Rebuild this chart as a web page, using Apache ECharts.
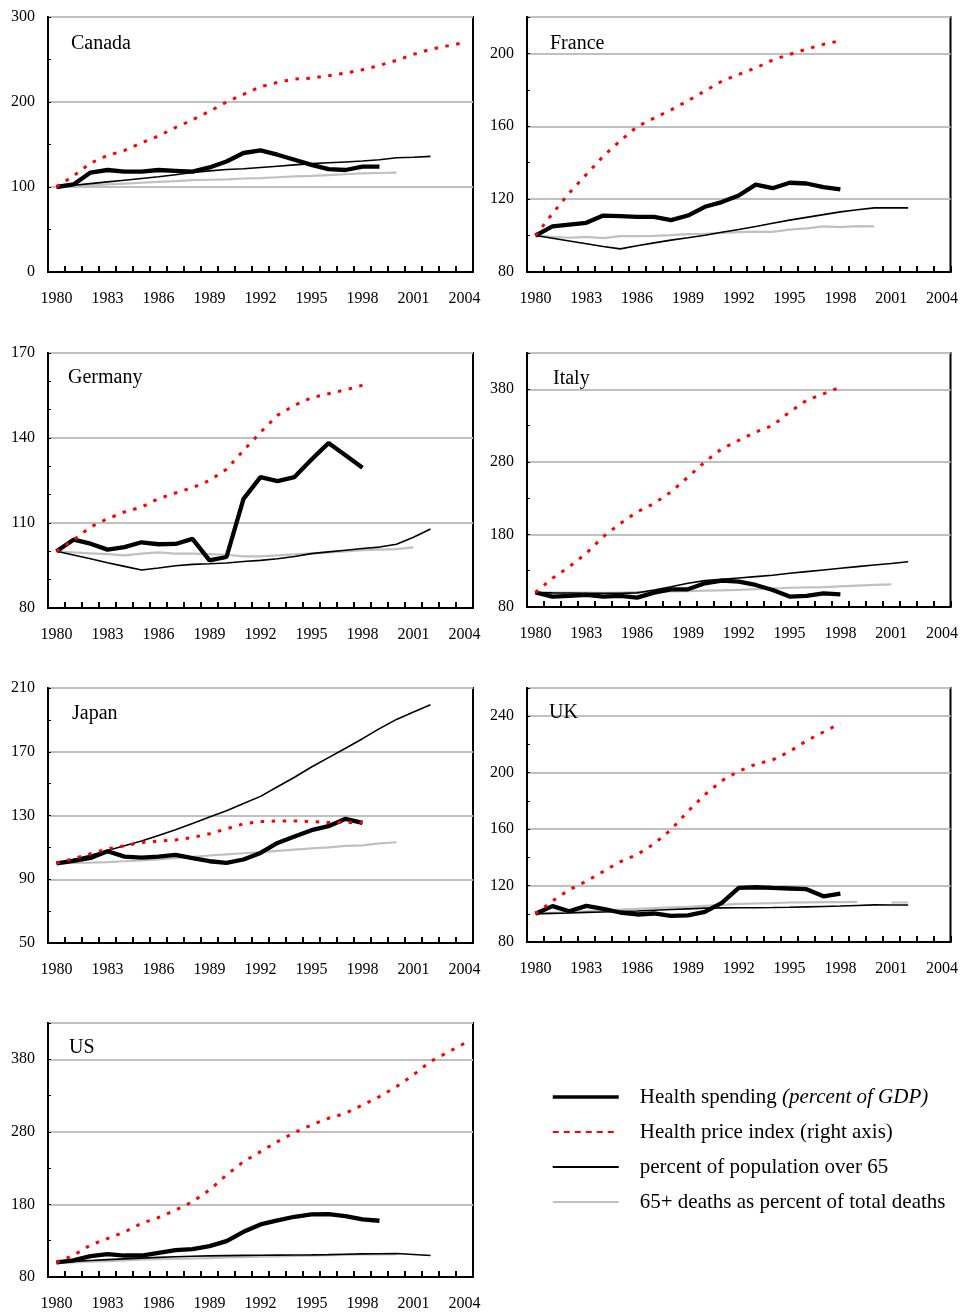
<!DOCTYPE html>
<html>
<head>
<meta charset="utf-8">
<script src="https://cdn.jsdelivr.net/npm/echarts@6/dist/echarts.min.js"></script>
<style>
html,body{margin:0;padding:0;background:#fff;}
#chart{width:961px;height:1312px;}
</style>
</head>
<body>
<div id="chart"></div>
<script>
// ---- categories ----
const years = ['1980','1981','1982','1983','1984','1985','1986','1987','1988','1989','1990','1991','1992','1993','1994','1995','1996','1997','1998','1999','2000','2001','2002','2003','2004'];
const seriesNames = ['Health spending','Health price index (right axis)','percent of population over 65','65+ deaths as percent of total deaths'];

// ---- Canada ----
const canadaSpending = [100,103,117,120,118,118,120,119,118,123,130,140,143,138,132,126,121,120,124,124];
const canadaPrice = [100,113,128,137,143,152,160,170,179,189,200,209,218,223,227,228,231,234,238,243,249,256,262,266,270];
const canadaPop65 = [100,102,104,106,108,110,112,114.5,117,119,120.5,121.5,123,124.5,126,127.5,128.5,129.5,130.5,132,134.5,135,136];
const canadaDeaths = [100,101,102,103,104,105,106,107,108,108.5,109,110,110.5,111.5,112.5,113,114,115,116,116.5,117];

// ---- France ----
const franceSpending = [100,105,106,107,111,110.7,110.3,110.3,108.5,111,115.8,118.4,122,128,126,129,128.6,126.6,125.3];
const francePrice = [100,112,123.5,133.5,143.6,152,159.8,164.5,169,174,179.4,184.7,188.5,192,196.4,199.5,202.3,205,207];
const francePop65 = [100,98.5,97,95.5,94,92.7,94.4,96,97.5,98.8,100.2,101.8,103.3,105,106.8,108.5,110,111.5,113,114.2,115.2,115.2,115.2];
const franceDeaths = [100,99.3,98.8,99.3,98.6,99.7,99.7,99.8,100.2,100.8,101,101.5,101.9,102.2,102,103.3,104,105,104.6,105.2,105];

// ---- Germany ----
const germanySpending = [100,104.1,102.7,100.6,101.5,103.2,102.5,102.6,104.4,96.8,98,118.5,126.2,124.8,126.2,132.4,138.2,133.9,129.5];
const germanyPrice = [100,104,108.6,111.5,113.9,115.6,118.6,120.6,122.5,125,129,135.6,142,148,151.5,154.2,155.6,157,158.6];
const germanyPop65 = [100,98.7,97.4,96,94.7,93.4,94.1,94.9,95.4,95.6,95.9,96.4,96.8,97.4,98.2,99.2,99.8,100.4,101,101.5,102.5,105,107.9];
const germanyDeaths = [100,99.6,99.3,99,98.6,99.2,99.6,99.2,99.2,99,98.8,98.2,98.2,98.6,98.9,99.3,99.6,100,100.4,100.6,100.8,101.4];

// ---- Italy ----
const italySpending = [100,94.3,95.3,96.6,94.3,95.3,93,99.8,104.4,104.4,112.7,116.3,115,110.4,103.5,94.3,95.3,98.9,97.5];
const italyPrice = [100,119.5,135.6,154,176.8,195,211,222.6,238.6,259,280,298,309.6,321,330,348.6,364.6,373.8,383];
const italyPop65 = [100,99.5,99.3,99,98.8,98.8,99.5,103.5,108,112.7,116.3,118.2,120,121.8,123.7,126.4,128.7,131,133.3,135.6,137.9,140,142.4];
const italyDeaths = [100,100,100,100,99.5,100,100.5,101,101.5,102,102.5,103,103.5,104.5,105.5,106.5,107,107.5,108.5,109.5,110.5,111.3];

// ---- Japan ----
const japanSpending = [100,101.5,103.4,107.6,104.2,103.6,104.2,105.3,103.2,101.3,100.3,102.4,106.5,112.8,116.8,120.8,123.3,127.9,125.4];
const japanPrice = [100,103,106,109,111,113,114,114.7,116.2,118.5,121.6,124.8,126.2,126.6,126.6,126.2,125.6,125.6,125.8];
const japanPop65 = [100,102.5,105,108,111,114,117.4,121,125,129,133,137.5,142,148,154,160.4,166.3,172.2,178.2,184.5,190.3,195,199.5];
const japanDeaths = [100,100.2,100.4,100.8,101.3,101.8,102.5,103.3,104,104.9,105.6,106.3,107,107.8,108.6,109.4,110,111,111.3,112.5,113.2];

// ---- UK ----
const ukSpending = [100,105.4,101.8,105.6,103.5,100.9,99.5,100.2,98.5,98.8,101.4,107.7,118.3,118.8,118.3,117.9,117.4,112.4,114.3];
const ukPrice = [100,109,117,123,130,136.8,142,149.5,159.6,172.6,184.4,194.3,201,206,209,215,222.6,228.8,235];
const ukPop65 = [100,100.3,100.6,101,101.3,101.6,102,102.5,103,103.5,104,104.2,104.3,104.3,104.4,104.6,104.9,105.2,105.5,105.9,106.3,106.2,106.2];
const ukDeaths = [100,100.6,101.2,101.8,102.3,102.9,103.5,104,104.5,104.9,105.6,106.3,107,107.3,107.6,108,108.1,108.2,108.3,108.4,null,108,108];

// ---- US ----
const usSpending = [100,103,108.7,111.4,109.6,109.6,113.3,117,118.3,122.5,129.4,142.3,152.4,158,163,166.2,166.7,164,159.3,157.5];
const usPrice = [100,110,124,133,142,153.8,162,172,183.7,199.8,220.5,239,252.7,266.5,279,289.5,298.7,305.6,317,328.6,342.4,358.6,377,389.4,402];
const usPop65 = [100,101.5,102.8,104,105,106,107,107.8,108.5,109.1,109.5,109.8,110,110.2,110.3,110.5,110.8,111.3,111.8,112,112.3,111,109.6];
const usDeaths = [99,100,101,102,103,104,104.5,105,105.5,106,107,107.5,108,108.5,109,109.5,110,110.5,111,111.3,111.5];

// ---- y-axis scales per panel ----
const countryNames = ['Canada','France','Germany','Italy','Japan','UK','US'];
const yMins = [0,80,80,80,50,80,80];
const yMaxs = [300,220,170,430,210,260,430];
const yIntervals = [100,40,30,100,40,40,100];
const yMinorSplits = [2,2,3,2,2,2,2];
const countryData = [
  [canadaSpending, canadaPrice, canadaPop65, canadaDeaths],
  [franceSpending, francePrice, francePop65, franceDeaths],
  [germanySpending, germanyPrice, germanyPop65, germanyDeaths],
  [italySpending, italyPrice, italyPop65, italyDeaths],
  [japanSpending, japanPrice, japanPop65, japanDeaths],
  [ukSpending, ukPrice, ukPop65, ukDeaths],
  [usSpending, usPrice, usPop65, usDeaths]
];

// ---- layout (positions only) ----
const layout = [
  {left:48, top:17, h:255, tl:71, tt:34},
  {left:527, top:17, h:255, tl:550, tt:34},
  {left:48, top:353, h:255, tl:68, tt:368},
  {left:527, top:353, h:254, tl:553, tt:369},
  {left:48, top:688, h:255, tl:72, tt:704},
  {left:527, top:688, h:254, tl:549, tt:703},
  {left:48, top:1023, h:255, tl:69, tt:1038}
];
const FONT = 'Liberation Serif';
const lineStyles = [
  {color:'#000000', width:4.3},
  {color:'#ff0000', width:3, type:[3.5,7.5]},
  {color:'#000000', width:1.6},
  {color:'#c0c0c0', width:2.2}
];
const zOrder = [4,5,3,2];

const grids=[], xAxes=[], yAxes=[], series=[], titles=[];
countryNames.forEach((c,i)=>{
  const L = layout[i];
  grids.push({left:L.left, top:L.top, width:425, height:L.h, show:true, borderColor:'#000', borderWidth:2, backgroundColor:'transparent'});
  titles.push({text:c, left:L.tl, top:L.tt, padding:0, textStyle:{fontFamily:FONT, fontSize:20, fontWeight:'normal', color:'#000'}});
  xAxes.push({type:'category', gridIndex:i, data:years, boundaryGap:true,
    axisLine:{lineStyle:{color:'#000', width:2}},
    axisTick:{show:true, inside:true, length:6, interval:0, lineStyle:{color:'#000', width:2}},
    axisLabel:{interval:2, margin:19, fontFamily:FONT, fontSize:16, color:'#000'},
    splitLine:{show:false}});
  yAxes.push({type:'value', gridIndex:i, min:yMins[i], max:yMaxs[i], interval:yIntervals[i],
    axisLine:{show:true, lineStyle:{color:'#000', width:2}},
    axisTick:{show:true, inside:true, length:3, lineStyle:{color:'#000', width:1}},
    minorTick:{show:true, splitNumber:yMinorSplits[i], length:3, lineStyle:{color:'#000', width:1}},
    axisLabel:{margin:13, fontFamily:FONT, fontSize:16, color:'#000', showMaxLabel: (yMaxs[i] - yMins[i]) % yIntervals[i] === 0},
    splitLine:{show:true, lineStyle:{color:'#c0c0c0', width:2}}});
  countryData[i].forEach((arr,k)=>{
    series.push({type:'line', name:seriesNames[k], xAxisIndex:i, yAxisIndex:i, data:arr,
      symbol:'none', showSymbol:false, connectNulls:false, silent:true, animation:false,
      z:zOrder[k], lineStyle:lineStyles[k], itemStyle:{color:lineStyles[k].color}});
  });
});

const chart = echarts.init(document.getElementById('chart'), null, {renderer:'canvas'});
chart.setOption({
  backgroundColor:'#fff',
  animation:false,
  title:titles,
  grid:grids,
  xAxis:xAxes,
  yAxis:yAxes,
  legend:{
    orient:'vertical', left:551, top:1085, padding:0, selectedMode:false,
    itemWidth:66, itemHeight:14, itemGap:11,
    itemStyle:{opacity:0},
    textStyle:{fontFamily:FONT, fontSize:21, color:'#000', lineHeight:24, padding:[0,0,0,16],
      rich:{i:{fontFamily:FONT, fontSize:21, fontStyle:'italic', color:'#000', lineHeight:24}}},
    formatter:function(n){ return n==='Health spending' ? 'Health spending {i|(percent of GDP)}' : n; },
    data:[
      {name:seriesNames[0], itemStyle:{opacity:0}, lineStyle:{color:'#000', width:3.5}},
      {name:seriesNames[1], itemStyle:{opacity:0}, lineStyle:{color:'#ff0000', width:2, type:[6,5]}},
      {name:seriesNames[2], itemStyle:{opacity:0}, lineStyle:{color:'#000', width:2}},
      {name:seriesNames[3], itemStyle:{opacity:0}, lineStyle:{color:'#c0c0c0', width:2}}
    ]
  },
  series:series
});
</script>
</body>
</html>
